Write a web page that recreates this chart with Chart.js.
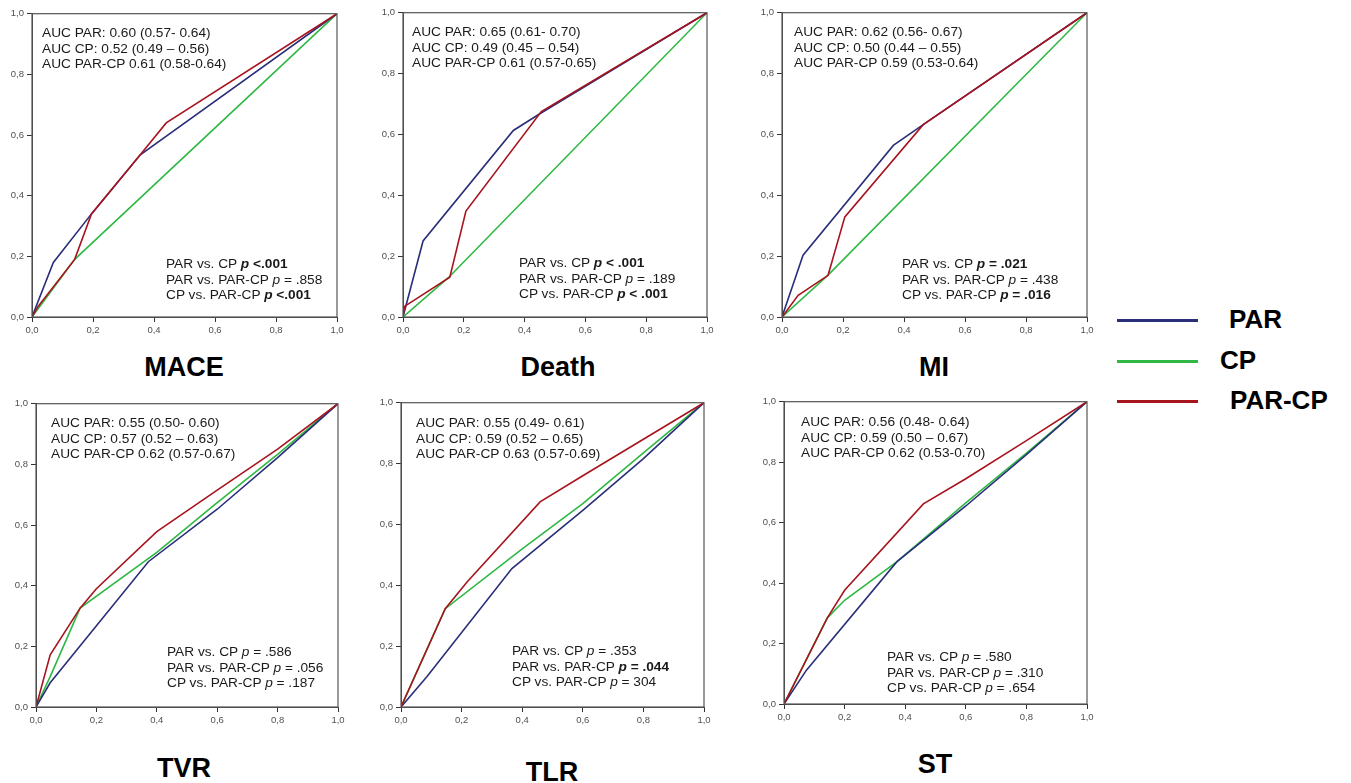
<!DOCTYPE html>
<html lang="en">
<head>
    <meta charset="UTF-8">
    <title>ROC curves PAR / CP / PAR-CP</title>
    <script src="https://cdn.jsdelivr.net/npm/chart.js"></script>
    <style>
        body { margin: 0; background: #fff; font-family: "Liberation Sans", Arial, sans-serif; }
        #page { position: relative; width: 1351px; height: 783px; overflow: hidden; }
        canvas { position: absolute; }
        .note { position: absolute; font-size: 13.7px; line-height: 15.5px; color: #1a1a1a; white-space: nowrap; }
        .title { position: absolute; font-size: 27px; font-weight: bold; color: #000; transform: translate(-50%, -50%); white-space: nowrap; }
        .legline { position: absolute; height: 3px; width: 81px; }
        .leglabel { position: absolute; font-size: 26px; font-weight: bold; transform: translateY(-50%); }
    </style>
</head>
<body>
<div id="page"></div>
<script>
    // ROC points, [1 - specificity, sensitivity]
    const MACE_PAR   = [[0,0],[0.07,0.18],[0.195,0.34],[0.355,0.535],[1,1]];
    const MACE_CP    = [[0,0],[0.14,0.19],[1,1]];
    const MACE_PARCP = [[0,0],[0.02,0.035],[0.14,0.19],[0.195,0.34],[0.355,0.535],[0.44,0.64],[1,1]];

    const DEATH_PAR   = [[0,0],[0.066,0.25],[0.363,0.613],[0.45,0.668],[1,1]];
    const DEATH_CP    = [[0,0],[0.15,0.13],[1,1]];
    const DEATH_PARCP = [[0,0],[0.005,0.035],[0.154,0.131],[0.207,0.348],[0.455,0.675],[1,1]];

    const MI_PAR   = [[0,0],[0.069,0.203],[0.365,0.564],[0.463,0.632],[1,1]];
    const MI_CP    = [[0,0],[0.15,0.137],[1,1]];
    const MI_PARCP = [[0,0],[0.053,0.071],[0.151,0.137],[0.206,0.329],[0.463,0.632],[1,1]];

    const TVR_PAR   = [[0,0],[0.047,0.08],[0.372,0.479],[0.6,0.652],[0.8,0.822],[1,1]];
    const TVR_CP    = [[0,0],[0.047,0.1],[0.146,0.326],[0.4,0.51],[0.6,0.674],[0.8,0.833],[1,1]];
    const TVR_PARCP = [[0,0],[0.047,0.172],[0.146,0.326],[0.2,0.39],[0.4,0.578],[0.6,0.715],[0.8,0.85],[1,1]];

    const TLR_PAR   = [[0,0],[0.086,0.1],[0.366,0.455],[0.6,0.646],[0.8,0.816],[1,1]];
    const TLR_CP    = [[0,0],[0.146,0.323],[0.4,0.52],[0.6,0.668],[0.8,0.835],[1,1]];
    const TLR_PARCP = [[0,0],[0.146,0.323],[0.218,0.411],[0.459,0.674],[0.6,0.76],[0.8,0.88],[1,1]];

    const ST_PAR   = [[0,0],[0.074,0.112],[0.372,0.47],[0.6,0.655],[0.8,0.825],[1,1]];
    const ST_CP    = [[0,0],[0.143,0.285],[0.2,0.343],[0.372,0.47],[0.6,0.665],[0.8,0.83],[1,1]];
    const ST_PARCP = [[0,0],[0.143,0.285],[0.2,0.376],[0.46,0.662],[0.6,0.745],[0.8,0.871],[1,1]];

    const panelNames = ['MACE', 'Death', 'MI', 'TVR', 'TLR', 'ST'];
    const seriesNames = ['PAR', 'CP', 'PAR-CP'];
    const axisTicks = [0, 0.2, 0.4, 0.6, 0.8, 1.0];

    const aucLabels = [
        ['AUC PAR: 0.60 (0.57- 0.64)', 'AUC CP: 0.52 (0.49 – 0.56)', 'AUC PAR-CP 0.61 (0.58-0.64)'],
        ['AUC PAR: 0.65 (0.61- 0.70)', 'AUC CP: 0.49 (0.45 – 0.54)', 'AUC PAR-CP 0.61 (0.57-0.65)'],
        ['AUC PAR: 0.62 (0.56- 0.67)', 'AUC CP: 0.50 (0.44 – 0.55)', 'AUC PAR-CP 0.59 (0.53-0.64)'],
        ['AUC PAR: 0.55 (0.50- 0.60)', 'AUC CP: 0.57 (0.52 – 0.63)', 'AUC PAR-CP 0.62 (0.57-0.67)'],
        ['AUC PAR: 0.55 (0.49- 0.61)', 'AUC CP: 0.59 (0.52 – 0.65)', 'AUC PAR-CP 0.63 (0.57-0.69)'],
        ['AUC PAR: 0.56 (0.48- 0.64)', 'AUC CP: 0.59 (0.50 – 0.67)', 'AUC PAR-CP 0.62 (0.53-0.70)']
    ];
    // [comparison, p text, bold?]
    const pLabels = [
        [['PAR vs. CP', '<.001', true], ['PAR vs. PAR-CP', '= .858', false], ['CP vs. PAR-CP', '<.001', true]],
        [['PAR vs. CP', '< .001', true], ['PAR vs. PAR-CP', '= .189', false], ['CP vs. PAR-CP', '< .001', true]],
        [['PAR vs. CP', '= .021', true], ['PAR vs. PAR-CP', '= .438', false], ['CP vs. PAR-CP', '= .016', true]],
        [['PAR vs. CP', '= .586', false], ['PAR vs. PAR-CP', '= .056', false], ['CP vs. PAR-CP', '= .187', false]],
        [['PAR vs. CP', '= .353', false], ['PAR vs. PAR-CP', '= .044', true], ['CP vs. PAR-CP', '= 304', false]],
        [['PAR vs. CP', '= .580', false], ['PAR vs. PAR-CP', '= .310', false], ['CP vs. PAR-CP', '= .654', false]]
    ];

    const curves = [
        [MACE_PAR, MACE_CP, MACE_PARCP],
        [DEATH_PAR, DEATH_CP, DEATH_PARCP],
        [MI_PAR, MI_CP, MI_PARCP],
        [TVR_PAR, TVR_CP, TVR_PARCP],
        [TLR_PAR, TLR_CP, TLR_PARCP],
        [ST_PAR, ST_CP, ST_PARCP]
    ];

    const colors = { 'PAR': '#2a2f7a', 'CP': '#2fb944', 'PAR-CP': '#a8141e' };

    // layout: plot area box [left, top, right, bottom], AUC text origin, p text origin, title centre
    const layout = [
        { box: [32, 13, 337, 317],  auc: [42, 25],   p: [166, 256],  title: [184, 367] },
        { box: [403, 12, 707, 317], auc: [412, 24],  p: [519, 255],  title: [558, 367] },
        { box: [782, 12, 1087, 317], auc: [794, 24], p: [902, 256],  title: [934, 367] },
        { box: [36, 403, 338, 707], auc: [51, 415],  p: [167, 644],  title: [184, 768] },
        { box: [401, 402, 704, 707], auc: [416, 415], p: [512, 643], title: [552, 772] },
        { box: [784, 401, 1087, 704], auc: [801, 414], p: [887, 649], title: [935, 764] }
    ];

    const page = document.getElementById('page');
    const Y_AXIS_W = 34, X_AXIS_H = 22, PAD_TOP = 8, PAD_RIGHT = 10;

    const framePlugin = {
        id: 'frame',
        afterDraw(chart) {
            const a = chart.chartArea;
            const ctx = chart.ctx;
            ctx.save();
            ctx.strokeStyle = '#555';
            ctx.lineWidth = 1.2;
            ctx.strokeRect(a.left, a.top, a.right - a.left, a.bottom - a.top);
            ctx.restore();
        }
    };

    function fmt(v) {
        return Number(v).toFixed(1).replace('.', ',');
    }

    function axisOpts(isX) {
        return {
            type: 'linear',
            min: 0,
            max: 1,
            afterBuildTicks: function(scale) {
                scale.ticks = axisTicks.map(v => ({ value: v }));
            },
            afterFit: function(scale) {
                if (isX) scale.height = X_AXIS_H; else scale.width = Y_AXIS_W;
            },
            ticks: {
                callback: fmt,
                color: '#505050',
                font: { family: 'Liberation Sans, Arial', size: 9.5 },
                padding: 3,
                maxRotation: 0,
                autoSkip: false
            },
            grid: { drawOnChartArea: false, drawTicks: true, tickLength: 5, color: '#333' },
            border: { color: '#444', width: 1 }
        };
    }

    panelNames.forEach(function(name, i) {
        const L = layout[i];
        const [l, t, r, b] = L.box;
        const canvas = document.createElement('canvas');
        const w = (r - l) + Y_AXIS_W + PAD_RIGHT;
        const h = (b - t) + PAD_TOP + X_AXIS_H;
        canvas.width = w;
        canvas.height = h;
        canvas.style.left = (l - Y_AXIS_W) + 'px';
        canvas.style.top = (t - PAD_TOP) + 'px';
        canvas.style.width = w + 'px';
        canvas.style.height = h + 'px';
        page.appendChild(canvas);

        // red first so it is painted on top
        const order = [2, 0, 1];
        const datasets = order.map(function(k) {
            return {
                label: seriesNames[k],
                data: curves[i][k].map(p => ({ x: p[0], y: p[1] })),
                showLine: true,
                borderColor: colors[seriesNames[k]],
                borderWidth: 1.6,
                pointRadius: 0,
                fill: false,
                tension: 0
            };
        });

        new Chart(canvas.getContext('2d'), {
            type: 'scatter',
            data: { datasets: datasets },
            options: {
                responsive: false,
                animation: false,
                layout: { padding: { top: PAD_TOP, right: PAD_RIGHT, left: 0, bottom: 0 } },
                plugins: { legend: { display: false }, tooltip: { enabled: false } },
                scales: { x: axisOpts(true), y: axisOpts(false) }
            },
            plugins: [framePlugin]
        });

        // AUC block
        const auc = document.createElement('div');
        auc.className = 'note';
        auc.style.left = L.auc[0] + 'px';
        auc.style.top = L.auc[1] + 'px';
        auc.innerHTML = aucLabels[i].join('<br>');
        page.appendChild(auc);

        // p value block
        const pv = document.createElement('div');
        pv.className = 'note';
        pv.style.left = L.p[0] + 'px';
        pv.style.top = L.p[1] + 'px';
        pv.innerHTML = pLabels[i].map(function(row) {
            const txt = '<i>p</i> ' + row[1].replace('<', '&lt;');
            return row[0] + ' ' + (row[2] ? '<b>' + txt + '</b>' : txt);
        }).join('<br>');
        page.appendChild(pv);

        const title = document.createElement('div');
        title.className = 'title';
        title.style.left = L.title[0] + 'px';
        title.style.top = L.title[1] + 'px';
        title.textContent = name;
        page.appendChild(title);
    });

    // legend on the right
    const legendRows = [
        { y: 320, labelX: 1229 },
        { y: 361, labelX: 1220 },
        { y: 401, labelX: 1230 }
    ];
    seriesNames.forEach(function(s, k) {
        const line = document.createElement('div');
        line.className = 'legline';
        line.style.left = '1117px';
        line.style.top = (legendRows[k].y - 1.5) + 'px';
        line.style.background = colors[s];
        page.appendChild(line);

        const lab = document.createElement('div');
        lab.className = 'leglabel';
        lab.style.left = legendRows[k].labelX + 'px';
        lab.style.top = (legendRows[k].y - 1) + 'px';
        lab.textContent = s;
        page.appendChild(lab);
    });
</script>
</body>
</html>
